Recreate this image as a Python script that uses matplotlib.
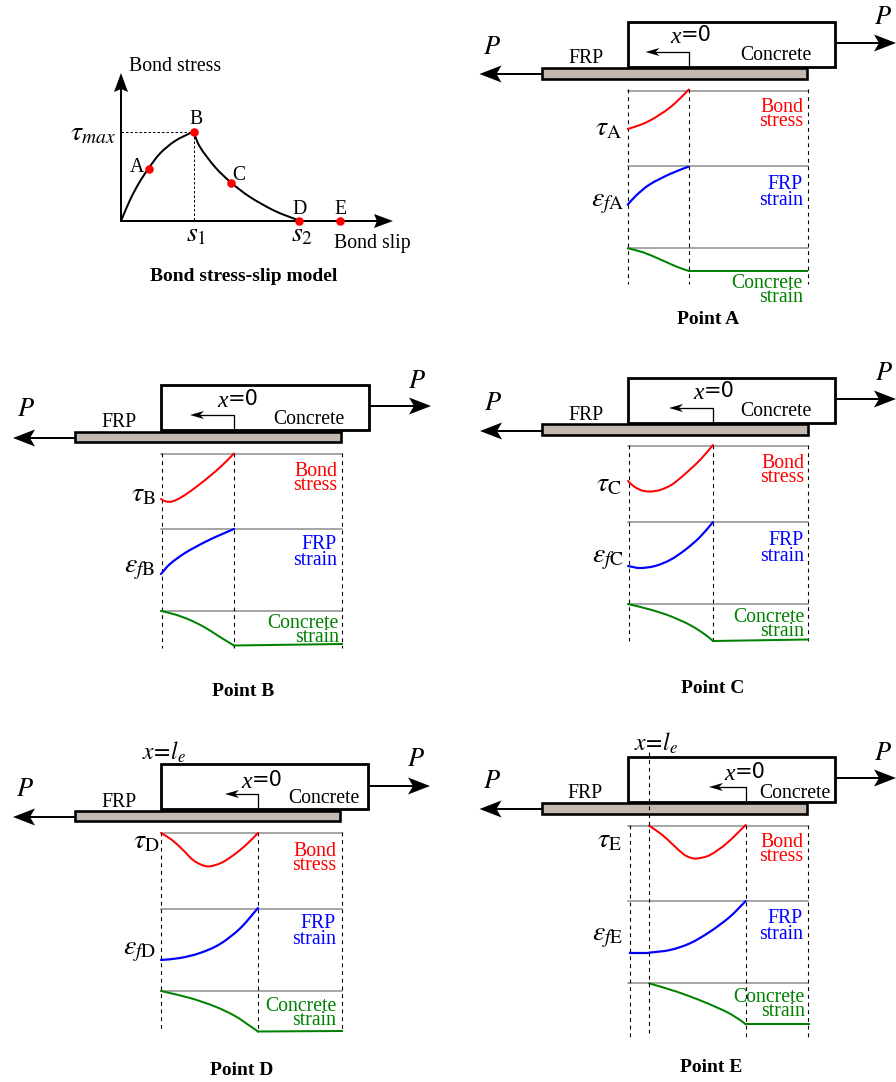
import numpy as np
import matplotlib
matplotlib.use("Agg")
import matplotlib.pyplot as plt
from matplotlib.patches import Rectangle, Polygon, PathPatch
from matplotlib.path import Path

plt.rcParams['font.family'] = ['Liberation Serif', 'DejaVu Sans']
plt.rcParams['mathtext.fontset'] = 'stix'

# ---------- bond stress-slip model ----------
model_rise_x = [121, 130, 139, 148.5, 160, 175, 193.5]
model_rise_y = [221, 200, 183, 168.5, 153.5, 141, 131.5]
model_fall_x = [193.5, 200, 215, 231, 250, 275, 299]
model_fall_y = [131.5, 147, 167, 182.5, 197, 211, 220.5]
point_names = ['A', 'B', 'C', 'D', 'E']
point_x = [148.5, 193.5, 231, 299, 340]
point_y = [168.5, 131.5, 182.5, 220.5, 221]

# ---------- curves: (x, y) ----------
tau_x = {
    'A': [627.7, 640, 650, 660, 670, 680, 688.8],
    'B': [161, 166, 172, 180, 190, 200, 210, 222, 234],
    'C': [628, 634, 642, 650, 660, 672, 685, 700, 713],
    'D': [161, 172, 183, 193, 202, 210, 222, 235, 247, 258],
    'E': [649, 661.7, 673.3, 683.3, 690, 697, 710, 726.7, 745.7],
}
tau_y = {
    'A': [129, 125, 120.5, 114.5, 107.5, 98.5, 89.5],
    'B': [499, 501.5, 501.5, 498, 491.5, 484, 476, 465.5, 453.5],
    'C': [481, 486.5, 490.5, 491.5, 490, 484.5, 474, 460, 445],
    'D': [833, 840, 850, 860, 865, 866.3, 862.5, 854, 844, 833],
    'E': [825.7, 834.5, 845, 854, 857.5, 858.5, 855, 843.3, 825],
}
frp_x = {
    'A': [627.7, 636.7, 650, 670, 688.3],
    'B': [161, 170, 185, 205, 220, 234],
    'C': [628, 640, 655, 670, 685, 700, 713],
    'D': [161, 180, 200, 220, 240, 258],
    'E': [649, 670, 690, 710, 730, 745.7],
}
frp_y = {
    'A': [204.7, 195, 184.3, 174, 166.7],
    'B': [574, 564, 553, 542, 535, 529],
    'C': [566, 568, 566, 560, 550, 537, 522],
    'D': [960, 958, 953, 944, 928.5, 908],
    'E': [952.7, 950, 943.3, 931.7, 916.7, 901],
}
conc_x = {
    'A': [627.7, 643, 660, 676.7, 689],
    'B': [161, 175, 190, 205, 220, 234],
    'C': [628, 650, 670, 690, 705, 713],
    'D': [161, 190, 215, 235, 250, 258],
    'E': [649, 676.7, 703, 726.7, 740, 745.7],
}
conc_y = {
    'A': [248.3, 252.3, 259.3, 266.7, 271],
    'B': [611, 614.5, 620, 627.5, 637, 645.5],
    'C': [604, 609.5, 616, 625, 634.5, 641],
    'D': [991, 998, 1006.5, 1016, 1026, 1031.5],
    'E': [983.3, 991.7, 1001.5, 1012, 1020, 1024.3],
}
conc_tail_x = {'A': 807, 'B': 342, 'C': 808, 'D': 342, 'E': 809}
conc_tail_y = {'A': 271, 'B': 644, 'C': 639.5, 'D': 1031, 'E': 1024.3}

# ---------- layout of each panel ----------
L = {
    'A': dict(box=(627.5, 22, 835, 67), frp=(541.5, 68, 807, 79), x0=689, la=74, ra=43,
              grid=(91, 166, 248), end=808, dash=(90, 284), tip=645.5, elbow=(66, 52),
              frpt=(585.5, 56), conc=(775.5, 53), xz=671, xzy=35, pl=(492, 45), pr=(883, 16),
              bond=(803, 106, 118), fs=(803, 183, 197), cs=(803, 282, 294),
              tl=(609, 128), el=(608, 203), title=(708, 317)),
    'B': dict(box=(161, 385, 369, 430), frp=(75, 432, 341, 442), x0=234, la=438, ra=406,
              grid=(454, 529, 611), end=341.5, dash=(454, 648), tip=190, elbow=(429, 415),
              frpt=(119, 420), conc=(309, 417), xz=218, xzy=399, pl=(26, 408), pr=(417, 379),
              bond=(337, 470, 482), fs=(337, 543, 557), cs=(339, 622, 634),
              tl=(144, 494), el=(140, 569), title=(243, 689)),
    'C': dict(box=(628, 378, 835, 423), frp=(542, 424, 808, 435), x0=713, la=431, ra=399,
              grid=(446, 522, 604), end=808, dash=(446, 641), tip=669, elbow=(422, 408),
              frpt=(586, 413), conc=(776, 409), xz=694, xzy=391, pl=(493, 401), pr=(884, 372),
              bond=(804, 462, 474), fs=(804, 539, 553), cs=(804, 616, 628),
              tl=(609, 484), el=(608, 558), title=(713, 686)),
    'D': dict(box=(160.5, 764, 368, 809), frp=(75, 811, 340, 821), x0=258, la=817, ra=786,
              grid=(833, 909, 991), end=342, dash=(833, 1030), tip=225, elbow=(808, 794),
              frpt=(119, 800), conc=(324, 796), xz=242, xzy=780, pl=(25, 787), pr=(416, 758),
              bond=(336, 850, 862), fs=(336, 922, 936), cs=(336, 1005, 1017),
              tl=(146, 841), el=(140, 950), title=(242, 1068), le=(142, 752)),
    'E': dict(box=(627.5, 757, 835, 802), frp=(541.5, 803, 807, 814), x0=745.7, la=809, ra=778,
              grid=(826, 901, 983), end=808, dash=(826, 1037), tip=709, elbow=(800, 787),
              frpt=(585, 791), conc=(795, 791), xz=725, xzy=772, pl=(492, 780), pr=(883, 751),
              bond=(803, 841, 853), fs=(803, 917, 931), cs=(805, 996, 1008),
              tl=(609, 840), el=(608, 936), title=(711, 1065), le=(634, 743)),
}

RED, BLUE, GREEN = '#ff0000', '#0000ff', '#008000'
PX = 0.72
FS = 14.2

fig = plt.figure(figsize=(8.96, 10.82), dpi=100)
ax = fig.add_axes([0, 0, 1, 1])
ax.set_xlim(0, 896)
ax.set_ylim(1082, 0)
ax.axis('off')


def smooth(xs, ys, color, lw=2.0):
    """Draw a curve through the read points (Catmull-Rom to Bezier)."""
    p = np.column_stack([xs, ys]).astype(float)
    verts = [p[0]]
    codes = [Path.MOVETO]
    for i in range(len(p) - 1):
        b, c = p[i], p[i + 1]
        a = p[i - 1] if i > 0 else 2 * b - c
        d = p[i + 2] if i + 2 < len(p) else 2 * c - b
        verts += [b + (c - a) / 6, c - (d - b) / 6, c]
        codes += [Path.CURVE4] * 3
    ax.add_patch(PathPatch(Path(verts, codes), fc='none', ec=color, lw=lw * PX,
                           capstyle='round', zorder=3))


def head(tx, ty, ux, uy, length=22, half=8.5, notch=5):
    """Stealth arrow head with its tip at (tx, ty), pointing along (ux, uy)."""
    vx, vy = -uy, ux
    pts = [(tx, ty),
           (tx - ux * length + vx * half, ty - uy * length + vy * half),
           (tx - ux * (length - notch), ty - uy * (length - notch)),
           (tx - ux * length - vx * half, ty - uy * length - vy * half)]
    ax.add_patch(Polygon(pts, closed=True, fc='black', ec='none', zorder=4, clip_on=False))


def harrow(x1, x2, y, lw=2.0, **kw):
    s = 1 if x2 > x1 else -1
    ax.plot([x1, x2 - s * 12], [y, y], color='black', lw=lw * PX, zorder=4, solid_capstyle='butt')
    head(x2, y, s, 0, **kw)


def dash_v(x, y0, y1, z=2):
    ax.plot([x, x], [y0, y1], color='black', lw=1.1 * PX, dashes=(3.5, 3.5), zorder=z)


def txt(x, y, s, ha='center', size=FS, color='black', dy=2.5, **kw):
    ax.text(x, y + dy, s, ha=ha, va='center', fontsize=size, color=color, **kw)


def stacked(spec, first, second, color):
    """Two tight right-aligned lines in one text, as in the reference."""
    x, y1, y2 = spec
    gap = y2 - y1
    ax.text(x, (y1 + y2) / 2 + 2.5, first + '\n' + second, ha='right', va='center',
            multialignment='right', fontsize=FS, color=color, linespacing=gap / 18.2, zorder=6)


# ---------- model panel ----------
ax.plot([121, 121], [85, 221], color='black', lw=2.0 * PX, zorder=2)
head(121, 73, 0, -1, length=19, half=7, notch=3)
harrow(121, 393, 221, length=19, half=7, notch=3)
smooth(model_rise_x, model_rise_y, 'black', 2.0)
smooth(model_fall_x, model_fall_y, 'black', 2.0)
ax.plot([121, 193.5], [131.5, 131.5], color='black', lw=1 * PX, dashes=(2.5, 2), zorder=2)
ax.plot([193.5, 193.5], [131.5, 221], color='black', lw=1 * PX, dashes=(2.5, 2), zorder=2)
ax.scatter(point_x, point_y, s=38, color=RED, zorder=5, linewidths=0)
offsets = {'A': (-12, -4), 'B': (2.5, -14), 'C': (8, -9), 'D': (1, -14), 'E': (0, -14)}
for n, x, y in zip(point_names, point_x, point_y):
    txt(x + offsets[n][0], y + offsets[n][1], n)
txt(129, 64, 'Bond stress', ha='left')
txt(334, 241, 'Bond slip', ha='left')
txt(244, 274, 'Bond stress-slip model', weight='bold', size=14)
txt(93, 131, r'$\tau_{max}$', size=20)
txt(196, 232, r'$s_1$', size=20)
txt(302, 232, r'$s_2$', size=20)

# ---------- point panels ----------
for n, d in L.items():
    x1, y1, x2, y2 = d['box']
    ax.add_patch(Rectangle((x1, y1), x2 - x1, y2 - y1, fc='white', ec='black', lw=2.8 * PX, zorder=3))
    fx1, fy1, fx2, fy2 = d['frp']
    ax.add_patch(Rectangle((fx1, fy1), fx2 - fx1, fy2 - fy1, fc='#c3b9b1', ec='black', lw=2.6 * PX, zorder=3))
    harrow(fx1, fx1 - 62, d['la'])
    harrow(x2, min(x2 + 62, 896), d['ra'])

    # x = 0 marker
    e0, e1 = d['elbow']
    ax.plot([d['x0'], d['x0'], d['tip'] + 8], [e0, e1, e1], color='black', lw=1.3 * PX, zorder=4)
    head(d['tip'], e1, -1, 0, length=14, half=4, notch=4)

    # guide lines
    for g in d['grid']:
        ax.plot([x1, d['end']], [g, g], color='#8a8a8a', lw=1.5 * PX, zorder=1)
    left = 630 if n == 'E' else x1 + 0.5
    for vx in (left, d['x0'], d['end']):
        dash_v(vx, d['dash'][0] - 1, d['dash'][1])

    # curves
    smooth(tau_x[n], tau_y[n], RED)
    smooth(frp_x[n], frp_y[n], BLUE, 2.2)
    smooth(conc_x[n], conc_y[n], GREEN)
    ax.plot([conc_x[n][-1], conc_tail_x[n]], [conc_y[n][-1], conc_tail_y[n]], color=GREEN, lw=2 * PX, zorder=3)
    if n == 'E':
        ax.plot([630, frp_x[n][0]], [frp_y[n][0], frp_y[n][0]], color=BLUE, lw=2.2 * PX, zorder=3)
        dash_v(649, 752, d['dash'][1], z=5)

    # labels
    txt(*d['frpt'], 'FRP')
    txt(*d['conc'], 'Concrete', zorder=6)
    txt(d['xz'] + 5, d['xzy'], 'x', style='italic', size=17, zorder=6)
    txt(d['xz'] + 10, d['xzy'], '=0', ha='left', size=15, family='DejaVu Sans', dy=0, zorder=6)
    txt(*d['pl'], r'$P$', size=19)
    txt(*d['pr'], r'$P$', size=19)
    stacked(d['bond'], 'Bond', 'stress', RED)
    stacked(d['fs'], 'FRP', 'strain', BLUE)
    stacked(d['cs'], 'Concrete', 'strain', GREEN)
    txt(*d['tl'], r'$\tau_{\mathrm{%s}}$' % n, size=20, dy=1)
    txt(*d['el'], r'$\varepsilon_{f\mathrm{%s}}$' % n, size=20, dy=1)
    txt(*d['title'], 'Point ' + n, weight='bold', size=14)
    if 'le' in d:
        txt(d['le'][0], d['le'][1], r'$x\!=\!l_e$', ha='left', size=17, dy=0, zorder=6)

fig.savefig('out.png', dpi=100)
